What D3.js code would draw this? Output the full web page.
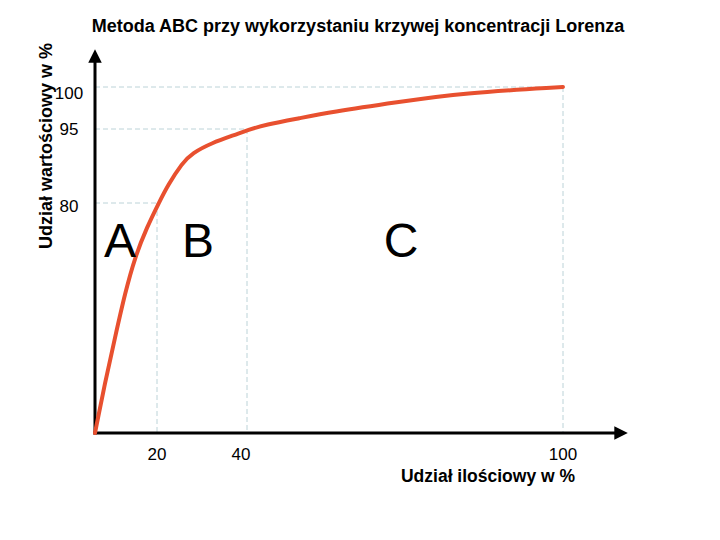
<!DOCTYPE html>
<html><head><meta charset="utf-8">
<script src="https://cdn.jsdelivr.net/npm/d3@7"></script>
<style>body{margin:0;background:#fff}text{font-family:"Liberation Sans",Arial,sans-serif}</style>
</head><body><svg id="c" width="720" height="540"></svg>
<script>
const title = "Metoda ABC przy wykorzystaniu krzywej koncentracji Lorenza";
const xLabel = "Udział ilościowy w %";
const yLabel = "Udział wartościowy w %";
const xTicks = [20, 40, 100];
const yTicks = [80, 95, 100];
const groups = ["A", "B", "C"];
const curveX = [0, 3.2, 6.5, 9.7, 12.9, 16.8, 20.4, 22.4, 25.6, 27.8, 32.2, 37.3, 40.2, 43.4, 50.1, 55.8, 68.5, 81, 100];
const curveY = [0, 17.4, 33.4, 48.7, 61.2, 71.7, 80, 83.6, 88.1, 90.1, 92.2, 93.8, 94.8, 95.5, 96.3, 97.0, 98.2, 99.3, 100];

const svg = d3.select("#c");
const x = d3.scaleLinear().domain([0, 20, 40, 100]).range([95, 157, 247, 563]);
const y = d3.scaleLinear().domain([0, 80, 95, 100]).range([433, 203, 129, 87]);

const defs = svg.append("defs");
defs.append("marker").attr("id","arr").attr("viewBox","0 0 10 10").attr("refX",2).attr("refY",5)
  .attr("markerWidth",4.5).attr("markerHeight",4.5).attr("orient","auto")
  .append("path").attr("d","M0,0L10,5L0,10Z").attr("fill","#000");

// grid
const grid = svg.append("g").attr("stroke","#bcd3d8").attr("stroke-width",1).attr("stroke-dasharray","5,3").attr("fill","none");
xTicks.forEach((t,i)=>{
  grid.append("line").attr("x1",x(t)).attr("x2",x(t)).attr("y1",y(yTicks[i])).attr("y2",y(0));
  grid.append("line").attr("x1",x(0)).attr("x2",x(t)).attr("y1",y(yTicks[i])).attr("y2",y(yTicks[i]));
});

// axes
svg.append("line").attr("x1",x(0)).attr("y1",y(0)+1.5).attr("x2",x(0)).attr("y2",60)
  .attr("stroke","#000").attr("stroke-width",3).attr("marker-end","url(#arr)");
svg.append("line").attr("x1",x(0)-1.5).attr("y1",y(0)).attr("x2",617).attr("y2",y(0))
  .attr("stroke","#000").attr("stroke-width",3).attr("marker-end","url(#arr)");

// ticks
const xTickShift = d => d === 40 ? -6 : 0;
svg.append("g").selectAll("text").data(xTicks).join("text")
  .attr("x",d=>x(d)+xTickShift(d)).attr("y",460).attr("text-anchor","middle").attr("font-size",17).text(d=>d);
const yTickShift = d => d === 100 ? 12 : (d === 95 ? 6 : 9);
svg.append("g").selectAll("text").data(yTicks).join("text")
  .attr("x",69).attr("y",d=>y(d)+yTickShift(d)).attr("text-anchor","middle").attr("font-size",17).text(d=>d);

// curve
const pts = curveX.map((v,i)=>[v,curveY[i]]);
svg.append("path").datum(pts).attr("fill","none").attr("stroke","#e8502f").attr("stroke-width",4)
  .attr("stroke-linecap","round").attr("stroke-linejoin","round")
  .attr("d", d3.line().x(d=>x(d[0])).y(d=>y(d[1])).curve(d3.curveBasis));

// group letters
const gx = [120, 198, 401];
svg.append("g").selectAll("text").data(groups).join("text")
  .attr("x",(d,i)=>gx[i]).attr("y",257).attr("text-anchor","middle").attr("font-size",48).text(d=>d);

// titles
svg.append("text").attr("x",358).attr("y",32).attr("text-anchor","middle").attr("font-size",18).attr("font-weight","bold").text(title);
svg.append("text").attr("x",488).attr("y",482).attr("text-anchor","middle").attr("font-size",17.5).attr("font-weight","bold").text(xLabel);
svg.append("text").attr("transform","translate(52,146) rotate(-90)").attr("text-anchor","middle").attr("font-size",18).attr("font-weight","bold").text(yLabel);
</script></body></html>
